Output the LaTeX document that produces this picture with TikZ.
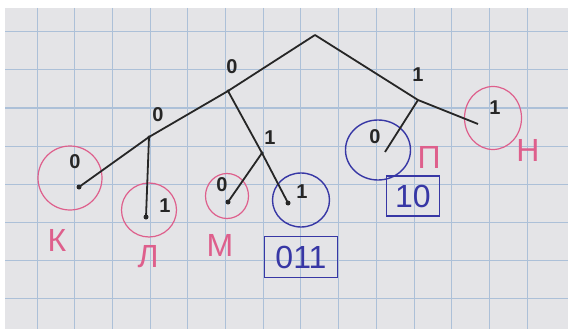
\documentclass[tikz,border=0pt]{standalone}
\usepackage{fontspec}
\setmainfont{Liberation Sans}
\usepackage{xcolor}
\usetikzlibrary{shapes.geometric}
\definecolor{paper}{RGB}{228,228,231}
\definecolor{gridblue}{RGB}{172,192,216}
\definecolor{inkpink}{RGB}{222,95,140}
\definecolor{inkblue}{RGB}{55,55,165}

\begin{document}
\begin{tikzpicture}[x=1pt, y=-1pt,
    edge/.style={line width=1.8pt, black!85},
    dot/.style={circle, fill=black!85, inner sep=0pt, minimum size=5pt},
    fork/.style={circle, fill=black!85, inner sep=0pt, minimum size=3.5pt},
    bit/.style={font=\fontsize{20}{20}\selectfont\bfseries, text=black!85},
    pinkring/.style={ellipse, draw=inkpink, line width=1.2pt},
    bluering/.style={ellipse, draw=inkblue, line width=1.4pt},
    letter/.style={font=\fontsize{32}{32}\selectfont, text=inkpink},
    code/.style={rectangle, draw=inkblue, line width=1.4pt, text=inkblue,
        font=\fontsize{32}{32}\selectfont, inner sep=2pt}
]
\useasboundingbox (0,0) rectangle (568,329);

% paper
\fill[white] (0,0) rectangle (568,329);
\fill[paper] (5,8) rectangle (568,329);
\foreach \i in {1,...,14}
    \draw[gridblue, line width=1pt] ({-0.7+37.7*\i},8) -- ({-0.7+37.7*\i},329);
\foreach \j in {0,...,7}
    \draw[gridblue, line width=1pt] (5,{32+38*\j}) -- (568,{32+38*\j});

% rings
\node[pinkring, minimum width=64, minimum height=64] (kring) at (70,178) {};
\node[pinkring, minimum width=55, minimum height=54] (lring) at (149,210) {};
\node[pinkring, minimum width=43, minimum height=45] (mring) at (227,196) {};
\node[bluering, minimum width=57, minimum height=54] (oring) at (301,200) {};
\node[bluering, minimum width=65, minimum height=60] (pring) at (378,150) {};
\node[pinkring, minimum width=57, minimum height=63] (nring) at (493,118) {};

% tree
\coordinate (root) at (315,35);
\node[fork] (a) at (228,91) {};
\node[fork] (b) at (149,137) {};
\node[fork] (c) at (262,153) {};
\coordinate (d) at (418,100);
\node[dot] (k) at (79,187) {};
\node[dot] (l) at (146,217) {};
\node[dot] (m) at (228,202) {};
\node[dot] (o) at (288,203) {};
\coordinate (p) at (385,152);
\coordinate (n) at (478,124);

\draw[edge] (root) -- (a.center);
\draw[edge] (root) -- (d);
\draw[edge] (a.center) -- (b.center);
\draw[edge] (a.center) -- (c.center);
\draw[edge] (b.center) -- (k.center);
\draw[edge] (b.center) -- (l.center);
\draw[edge] (c.center) -- (m.center);
\draw[edge] (c.center) -- (o.center);
\draw[edge] (d) -- (p);
\draw[edge] (d) -- (n);

% bits
\node[bit] (abit) at (232,67) {0};
\node[bit] (bbit) at (158,115) {0};
\node[bit] (cbit) at (270,138) {1};
\node[bit] (dbit) at (418,75) {1};
\node[bit] (kbit) at (75,162) {0};
\node[bit] (lbit) at (165,206) {1};
\node[bit] (mbit) at (222,185) {0};
\node[bit] (obit) at (302,192) {1};
\node[bit] (pbit) at (375,137) {0};
\node[bit] (nbit) at (495,108) {1};

% letters
\node[letter] (kname) at (57,240) {К};
\node[letter] (lname) at (148,257) {Л};
\node[letter] (mname) at (220,245) {М};
\node[letter] (pname) at (429,157) {П};
\node[letter] (nname) at (528,150) {Н};

% codes
\node[code, minimum width=73, minimum height=41] (ocode) at (301,257) {011};
\node[code, minimum width=53, minimum height=40] (pcode) at (413,196) {10};
\end{tikzpicture}
\end{document}
